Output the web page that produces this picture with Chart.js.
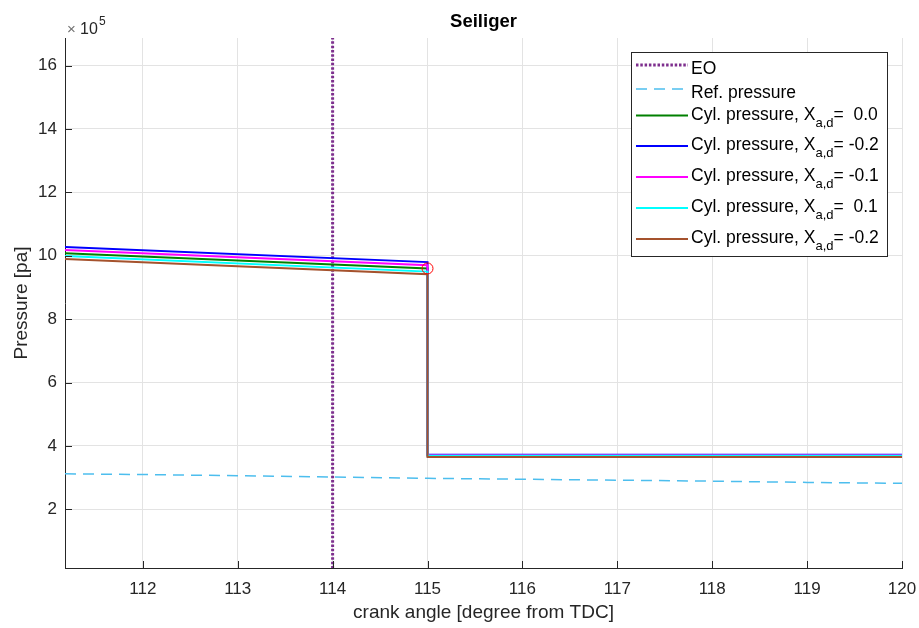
<!DOCTYPE html>
<html>
<head>
<meta charset="utf-8">
<script src="https://cdn.jsdelivr.net/npm/chart.js@4"></script>
<style>
  html, body { margin: 0; padding: 0; background: #fff; }
  #wrap { width: 919px; height: 628px; }
</style>
</head>
<body>
<div id="wrap"><canvas id="chart" width="919" height="628"></canvas></div>
<script>
// Seiliger — cylinder pressure around exhaust opening (values in 1e5 Pa)
const X_TICKS = [112, 113, 114, 115, 116, 117, 118, 119, 120];
const Y_TICKS = [2, 4, 6, 8, 10, 12, 14, 16];
const X_RANGE = [111.18, 120];
const Y_RANGE = [0.15, 16.87];

const EO_ANGLE = [114, 114];
const EO_PRESSURE = [0, 18];

const REF_ANGLE = [111.18, 112, 113, 114, 115, 116, 117, 118, 119, 120];
const REF_PRESSURE = [3.12, 3.10, 3.06, 3.02, 2.98, 2.95, 2.92, 2.89, 2.85, 2.82];

const CYL_ANGLE = [111.18, 115, 115, 120];
const CYL_P_00 = [10.08, 9.60, 3.70, 3.70];
const CYL_P_M02 = [10.28, 9.80, 3.72, 3.72];
const CYL_P_M01 = [10.18, 9.70, 3.71, 3.71];
const CYL_P_01 = [9.99, 9.50, 3.69, 3.69];
const CYL_P_M02B = [9.90, 9.42, 3.65, 3.65];

const MARK_ANGLE = [115];
const MARK_PRESSURE = [9.60];

const FONT = '"Liberation Sans", Arial, Helvetica, sans-serif';
const AX = '#262626';

const pts = (xs, ys) => xs.map((x, i) => ({ x, y: ys[i] }));

const SERIES = [
    { label: 'EO', data: pts(EO_ANGLE, EO_PRESSURE), color: '#7E2F8E', width: 3, dash: [2.5, 1.8] },
    { label: 'Ref. pressure', data: pts(REF_ANGLE, REF_PRESSURE), color: '#4DBEEE', width: 1.5, dash: [11, 7] },
    { label: 'Cyl. pressure, X', sub: 'a,d', suffix: '=  0.0', data: pts(CYL_ANGLE, CYL_P_00), color: '#008000', width: 2 },
    { label: 'Cyl. pressure, X', sub: 'a,d', suffix: '= -0.2', data: pts(CYL_ANGLE, CYL_P_M02), color: '#0000FF', width: 2 },
    { label: 'Cyl. pressure, X', sub: 'a,d', suffix: '= -0.1', data: pts(CYL_ANGLE, CYL_P_M01), color: '#FF00FF', width: 2 },
    { label: 'Cyl. pressure, X', sub: 'a,d', suffix: '=  0.1', data: pts(CYL_ANGLE, CYL_P_01), color: '#00FFFF', width: 2 },
    { label: 'Cyl. pressure, X', sub: 'a,d', suffix: '= -0.2', data: pts(CYL_ANGLE, CYL_P_M02B), color: '#A5522D', width: 2 },
];

const datasets = SERIES.map((s, i) => ({
    label: s.label, data: s.data, borderColor: s.color, borderWidth: s.width,
    borderDash: s.dash || [], pointRadius: 0, tension: 0, fill: false,
    order: SERIES.length - i + 1,
}));
datasets.push({
    label: 'marker', data: pts(MARK_ANGLE, MARK_PRESSURE), showLine: false,
    pointRadius: 5.5, pointBorderColor: '#FF0000', pointBackgroundColor: 'rgba(0,0,0,0)',
    pointBorderWidth: 1, order: 0,
});

// title, axis labels, exponent, inward ticks and the legend box
const decor = {
    id: 'decor',
    afterDraw(chart) {
        const { ctx, chartArea: a, scales } = chart;
        ctx.save();
        // inward tick marks
        ctx.strokeStyle = AX; ctx.lineWidth = 1;
        ctx.beginPath();
        X_TICKS.forEach(v => { const px = Math.round(scales.x.getPixelForValue(v)) + 0.5; ctx.moveTo(px, a.bottom); ctx.lineTo(px, a.bottom - 7); });
        Y_TICKS.forEach(v => { const py = Math.round(scales.y.getPixelForValue(v)) + 0.5; ctx.moveTo(a.left, py); ctx.lineTo(a.left + 7, py); });
        ctx.stroke();

        ctx.fillStyle = '#000';
        ctx.textAlign = 'center'; ctx.textBaseline = 'middle';
        ctx.font = 'bold 18.5px ' + FONT;
        ctx.fillText('Seiliger', (a.left + a.right) / 2, 22);

        ctx.fillStyle = AX;
        ctx.font = '19px ' + FONT;
        ctx.fillText('crank angle [degree from TDC]', (a.left + a.right) / 2, 613);
        ctx.save();
        ctx.translate(22, 303); ctx.rotate(-Math.PI / 2);
        ctx.fillText('Pressure [pa]', 0, 0);
        ctx.restore();

        // ×10^5
        ctx.textAlign = 'left'; ctx.textBaseline = 'alphabetic';
        ctx.fillStyle = '#707070'; ctx.font = '15px ' + FONT;
        ctx.fillText('×', 67, 34);
        ctx.fillStyle = AX; ctx.font = '16px ' + FONT;
        ctx.fillText('10', 80, 34);
        ctx.font = '12px ' + FONT;
        ctx.fillText('5', 99, 25);

        // legend
        const bx = 631, by = 52, bw = 256, bh = 204;
        ctx.fillStyle = '#fff';
        ctx.fillRect(bx, by, bw, bh);
        ctx.strokeStyle = '#262626'; ctx.lineWidth = 1;
        ctx.strokeRect(bx + 0.5, by + 0.5, bw, bh);
        const rowsY = [65, 89, 115.5, 146, 177, 208, 239];
        SERIES.forEach((s, i) => {
            const ly = rowsY[i];
            ctx.strokeStyle = s.color; ctx.lineWidth = s.dash ? (s.width > 2 ? 3 : 1.5) : 2;
            ctx.setLineDash(s.dash || []);
            ctx.beginPath(); ctx.moveTo(636, ly); ctx.lineTo(688, ly); ctx.stroke();
            ctx.setLineDash([]);
            ctx.fillStyle = '#000';
            ctx.font = '17.5px ' + FONT;
            const ty = s.sub ? ly + 4 : ly + 9;
            ctx.fillText(s.label, 691, ty);
            if (s.sub) {
                let tx = 691 + ctx.measureText(s.label).width;
                ctx.font = '13px ' + FONT;
                ctx.fillText(s.sub, tx, ty + 7);
                tx += ctx.measureText(s.sub).width;
                ctx.font = '17.5px ' + FONT;
                ctx.fillText(s.suffix, tx, ty);
            }
        });
        ctx.restore();
    }
};

new Chart(document.getElementById('chart').getContext('2d'), {
    type: 'line',
    data: { datasets },
    options: {
        responsive: false, animation: false, maintainAspectRatio: false,
        layout: { padding: { top: 38, right: 17, left: 0, bottom: 0 } },
        plugins: { legend: { display: false }, title: { display: false }, tooltip: { enabled: false } },
        scales: {
            x: {
                type: 'linear', min: X_RANGE[0], max: X_RANGE[1],
                afterBuildTicks: s => { s.ticks = X_TICKS.map(v => ({ value: v })); },
                afterFit: s => { s.height = 60; s.paddingLeft = 0; s.paddingRight = 0; },
                ticks: { color: AX, font: { family: FONT, size: 17 }, padding: 11, maxRotation: 0 },
                grid: { color: '#e3e3e3', drawTicks: false },
                border: { color: AX, width: 1 },
            },
            y: {
                type: 'linear', min: Y_RANGE[0], max: Y_RANGE[1],
                afterBuildTicks: s => { s.ticks = Y_TICKS.map(v => ({ value: v })); },
                afterFit: s => { s.width = 65; s.paddingTop = 0; s.paddingBottom = 0; },
                ticks: { color: AX, font: { family: FONT, size: 17 }, padding: 8 },
                grid: { color: '#e3e3e3', drawTicks: false },
                border: { color: AX, width: 1 },
            }
        }
    },
    plugins: [decor]
});
</script>
</body>
</html>
